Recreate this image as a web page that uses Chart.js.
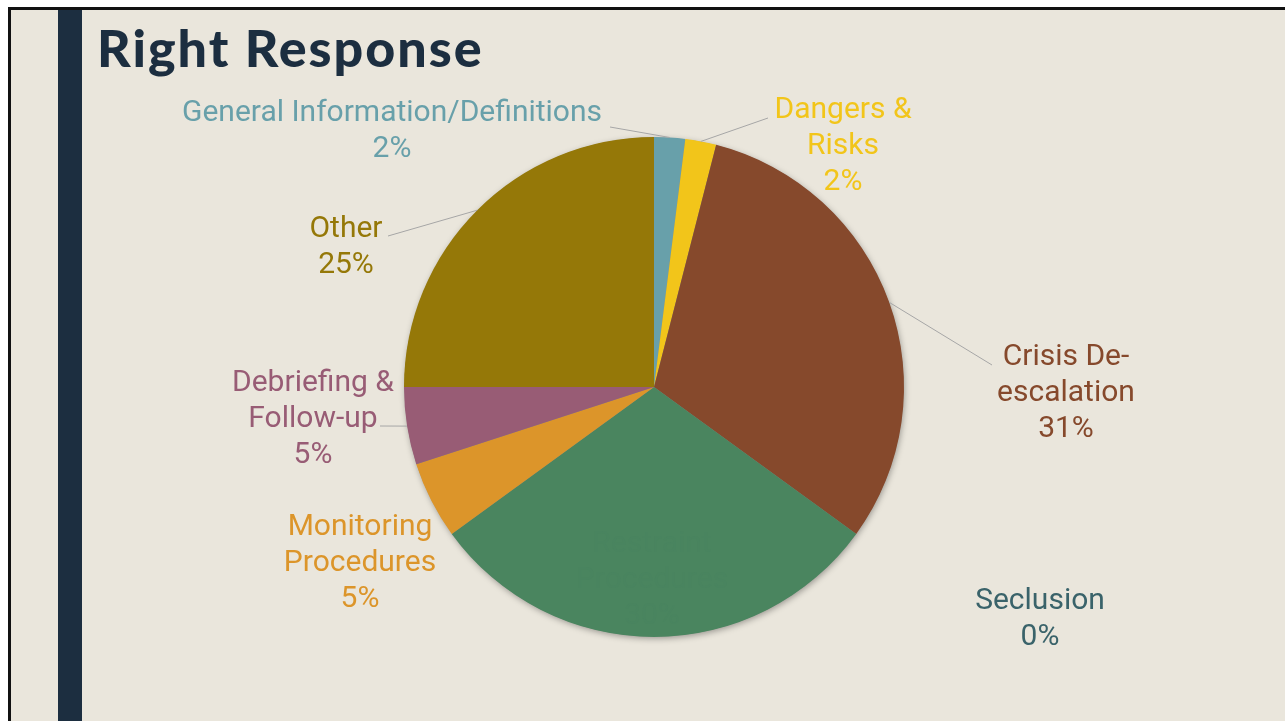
<!DOCTYPE html>
<html>
<head>
<meta charset="utf-8">
<script src="https://cdn.jsdelivr.net/npm/chart.js@4.4.1/dist/chart.umd.min.js"></script>
<style>
  html, body { margin: 0; padding: 0; background: #fff; }
  #slide {
    position: absolute; left: 8px; top: 7px; width: 1300px; height: 730px;
    background: #eae6dc; border-left: 3px solid #111; border-top: 3px solid #111;
  }
  #bar { position: absolute; left: 58px; top: 10px; width: 24px; height: 720px; background: #1c2e40; }
  #title {
    position: absolute; left: 97px; top: 16px; margin: 0;
    font-family: Lato, sans-serif; font-weight: 900; font-size: 52px; color: #1c2e40;
    letter-spacing: 2px;
  }
  #wrap { position: absolute; left: 0; top: 0; width: 1285px; height: 721px; }
</style>
</head>
<body>
<div id="slide"></div>
<div id="bar"></div>
<h1 id="title">Right Response</h1>
<div id="wrap"><canvas id="pieChart"></canvas></div>
<script>
const categories = ['General Information/Definitions', 'Dangers & Risks', 'Crisis De-escalation', 'Seclusion',
    'Restraint Procedures', 'Monitoring Procedures', 'Debriefing & Follow-up', 'Other'];
const shares = [2, 2, 31, 0, 30, 5, 5, 25];
const sliceColors = ['#68a0aa', '#f2c51a', '#86492c', '#3a636a', '#4a855f', '#dc952a', '#985c75', '#957808'];
const labelColors = ['#68a0aa', '#f2c51a', '#86492c', '#3a636a', '#49845f', '#dc952a', '#985c75', '#957808'];
// how each label breaks into lines (percent line is added below)
const labelLines = [['General Information/Definitions'], ['Dangers &', 'Risks'], ['Crisis De-', 'escalation'], ['Seclusion'],
    ['Restraint', 'Procedures'], ['Monitoring', 'Procedures'], ['Debriefing &', 'Follow-up'], ['Other']];

// label placement, offsets from the pie centre (first line), plus leader line end
const labelPos = [
    { dx: -262, dy: -274, lead: [-44, -260] },
    { dx: 189, dy: -277, lead: [114, -269] },
    { dx: 412, dy: -30, lead: [338, -22] },
    { dx: 386, dy: 214 },
    { dx: -2, dy: 157 },
    { dx: -294, dy: 140 },
    { dx: -341, dy: -4, lead: [-274, 39] },
    { dx: -308, dy: -158, lead: [-266, -151] }
];

const total = shares.reduce((a, b) => a + b, 0);

const labelPlugin = {
    id: 'sliceLabels',
    beforeDatasetsDraw(chart) {
        const arc = chart.getDatasetMeta(0).data[0];
        const c = chart.ctx;
        c.save();
        c.shadowColor = 'rgba(0,0,0,0.35)';
        c.shadowBlur = 6;
        c.shadowOffsetX = 1;
        c.shadowOffsetY = 2;
        c.fillStyle = '#888';
        c.beginPath();
        c.arc(arc.x, arc.y, arc.outerRadius - 0.5, 0, Math.PI * 2);
        c.fill();
        c.restore();
    },
    afterDatasetsDraw(chart) {
        const c = chart.ctx;
        const meta = chart.getDatasetMeta(0);
        c.save();
        meta.data.forEach((arc, i) => {
            const p = labelPos[i];
            const cx = arc.x, cy = arc.y;
            if (p.lead) {
                const mid = (arc.startAngle + arc.endAngle) / 2;
                c.strokeStyle = '#a6a6a6';
                c.lineWidth = 1;
                c.beginPath();
                c.moveTo(cx + Math.cos(mid) * arc.outerRadius, cy + Math.sin(mid) * arc.outerRadius);
                c.lineTo(cx + p.lead[0], cy + p.lead[1]);
                c.stroke();
            }
            const lines = labelLines[i].concat([Math.round(shares[i] / total * 100) + '%']);
            c.fillStyle = labelColors[i];
            c.font = '30px Roboto, sans-serif';
            c.textAlign = 'center';
            c.textBaseline = 'middle';
            lines.forEach((t, k) => c.fillText(t, cx + p.dx, cy + p.dy + k * 36));
        });
        c.restore();
    }
};

new Chart(document.getElementById('pieChart'), {
    type: 'pie',
    data: {
        labels: categories,
        datasets: [{
            data: shares,
            backgroundColor: sliceColors,
            borderWidth: 0
        }]
    },
    options: {
        responsive: true,
        maintainAspectRatio: false,
        animation: false,
        layout: { padding: { left: 404, right: 381, top: 137, bottom: 84 } },
        plugins: {
            legend: { display: false },
            tooltip: { enabled: false }
        }
    },
    plugins: [labelPlugin]
});
</script>
</body>
</html>
